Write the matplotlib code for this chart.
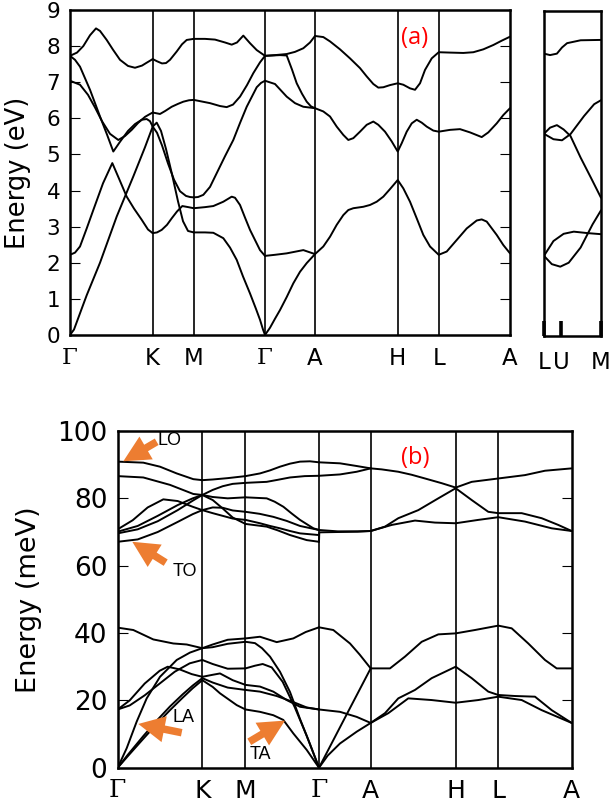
import matplotlib.pyplot as plt

# ------------------------------
# (a) electronic bands: k-path distance (arb. units) vs energy (eV)
a_kpts = [0, 0.827, 1.237, 1.95, 2.45, 3.277, 3.687, 4.40]
a_klab = ['Γ', 'K', 'M', 'Γ', 'A', 'H', 'L', 'A']

# Gamma-K
a_gk1 = ([0, 0.07, 0.133, 0.2, 0.26, 0.3, 0.367, 0.43, 0.50, 0.58, 0.65, 0.72, 0.767, 0.827],
         [7.73, 7.82, 8.0, 8.3, 8.49, 8.42, 8.17, 7.9, 7.62, 7.45, 7.40, 7.46, 7.54, 7.64])
a_gk2 = ([0, 0.04, 0.08, 0.12, 0.167, 0.30, 0.467, 0.633, 0.75, 0.827],
         [0, 0.15, 0.45, 0.75, 1.1, 2.0, 3.28, 4.39, 5.2, 5.77])
a_gk3 = ([0, 0.05, 0.10, 0.167, 0.233, 0.33, 0.423, 0.49, 0.567, 0.64, 0.717, 0.78, 0.827],
         [2.22, 2.28, 2.45, 2.95, 3.46, 4.2, 4.76, 4.33, 3.83, 3.5, 3.19, 2.92, 2.82])
a_gk4 = ([0, 0.05, 0.10, 0.20, 0.30, 0.37, 0.433, 0.50, 0.58, 0.65, 0.717, 0.767, 0.80, 0.827],
         [7.73, 7.62, 7.43, 6.79, 6.05, 5.55, 5.08, 5.35, 5.65, 5.84, 5.96, 5.98, 5.92, 5.77])
a_gk5 = ([0, 0.10, 0.18, 0.25, 0.32, 0.40, 0.483, 0.55, 0.617, 0.68, 0.75, 0.80, 0.827],
         [7.04, 6.93, 6.65, 6.30, 5.92, 5.57, 5.40, 5.51, 5.68, 5.87, 6.04, 6.12, 6.16])
# K-M
a_km1 = ([0.827, 0.87, 0.92, 0.96, 1.0, 1.067, 1.12, 1.167, 1.237],
         [7.64, 7.58, 7.52, 7.53, 7.62, 7.85, 8.05, 8.17, 8.20])
a_km2 = ([0.827, 0.90, 0.95, 1.017, 1.08, 1.133, 1.19, 1.237],
         [6.16, 6.12, 6.20, 6.32, 6.40, 6.46, 6.50, 6.51])
a_km3 = ([0.827, 0.867, 0.91, 0.96, 1.02, 1.08, 1.13, 1.18, 1.237],
         [5.77, 5.88, 5.65, 5.15, 4.45, 3.70, 3.15, 2.88, 2.84])
a_km4 = ([0.827, 0.87, 0.92, 0.98, 1.04, 1.10, 1.16, 1.20, 1.237],
         [5.77, 5.60, 5.25, 4.75, 4.30, 3.98, 3.85, 3.82, 3.81])
a_km5 = ([0.827, 0.87, 0.917, 0.97, 1.017, 1.07, 1.123, 1.183, 1.237],
         [2.82, 2.84, 2.91, 3.05, 3.23, 3.42, 3.57, 3.54, 3.51])
# M-Gamma
a_mg1 = ([1.237, 1.35, 1.45, 1.55, 1.617, 1.67, 1.733, 1.80, 1.867, 1.95],
         [8.20, 8.20, 8.18, 8.10, 8.04, 8.10, 8.29, 8.08, 7.89, 7.73])
a_mg2 = ([1.237, 1.40, 1.50, 1.567, 1.63, 1.70, 1.77, 1.833, 1.90, 1.95],
         [6.51, 6.42, 6.34, 6.31, 6.38, 6.60, 6.92, 7.25, 7.55, 7.73])
a_mg3 = ([1.237, 1.28, 1.333, 1.40, 1.467, 1.55, 1.633, 1.70, 1.767, 1.867, 1.91, 1.95],
         [3.81, 3.82, 3.88, 4.1, 4.48, 4.95, 5.40, 5.87, 6.32, 6.86, 6.98, 7.04])
a_mg4 = ([1.237, 1.35, 1.433, 1.533, 1.617, 1.65, 1.70, 1.75, 1.80, 1.90, 1.95],
         [3.51, 3.54, 3.57, 3.69, 3.83, 3.80, 3.60, 3.25, 2.91, 2.35, 2.19])
a_mg5 = ([1.237, 1.35, 1.433, 1.533, 1.60, 1.667, 1.73, 1.80, 1.86, 1.90, 1.93, 1.95],
         [2.84, 2.84, 2.83, 2.68, 2.42, 2.08, 1.62, 1.15, 0.72, 0.42, 0.15, 0.0])
# Gamma-A
a_ga1 = ([1.95, 2.05, 2.167, 2.25, 2.333, 2.40, 2.45], [7.73, 7.75, 7.78, 7.84, 7.94, 8.1, 8.28])
a_ga2 = ([1.95, 2.1, 2.167, 2.22, 2.267, 2.32, 2.367, 2.41, 2.45],
         [7.73, 7.75, 7.74, 7.35, 6.97, 6.68, 6.46, 6.33, 6.28])
a_ga3 = ([1.95, 2.05, 2.167, 2.25, 2.333, 2.45], [7.04, 6.95, 6.60, 6.42, 6.32, 6.28])
a_ga4 = ([1.95, 2.05, 2.167, 2.333, 2.45], [2.19, 2.22, 2.26, 2.35, 2.24])
a_ga5 = ([1.95, 2.0, 2.05, 2.10, 2.167, 2.233, 2.30, 2.367, 2.45],
         [0, 0.2, 0.45, 0.69, 1.05, 1.43, 1.75, 1.99, 2.24])
# A-H-L-A
a_aa1 = ([2.45, 2.533, 2.60, 2.70, 2.80, 2.90, 2.967, 3.033, 3.083, 3.133, 3.20, 3.277, 3.333,
          3.40, 3.45, 3.50, 3.55, 3.617, 3.687, 3.80, 3.933, 4.033, 4.133, 4.233, 4.317, 4.40],
         [8.28, 8.25, 8.13, 7.91, 7.66, 7.39, 7.16, 6.95, 6.85, 6.86, 6.92, 6.97, 6.93,
          6.83, 6.79, 6.97, 7.34, 7.66, 7.83, 7.82, 7.81, 7.83, 7.91, 8.03, 8.15, 8.26])
a_aa2 = ([2.45, 2.533, 2.60, 2.667, 2.733, 2.783, 2.833, 2.90, 2.967, 3.033, 3.083, 3.15, 3.217,
          3.277, 3.317, 3.367, 3.417, 3.467, 3.517, 3.567, 3.633, 3.687, 3.80, 3.90, 4.0, 4.117,
          4.183, 4.267, 4.333, 4.40],
         [6.28, 6.19, 6.05, 5.77, 5.54, 5.40, 5.45, 5.63, 5.82, 5.91, 5.82, 5.63, 5.36,
          5.08, 5.31, 5.63, 5.86, 5.96, 5.88, 5.77, 5.66, 5.63, 5.68, 5.70, 5.61, 5.48,
          5.61, 5.86, 6.09, 6.28])
a_aa3 = ([2.45, 2.533, 2.60, 2.667, 2.733, 2.783, 2.833, 2.933, 3.0, 3.067, 3.133, 3.2, 3.277,
          3.333, 3.40, 3.467, 3.533, 3.60, 3.687, 3.767, 3.867, 3.967, 4.067, 4.117, 4.167,
          4.267, 4.333, 4.40],
         [2.24, 2.45, 2.72, 3.05, 3.32, 3.46, 3.51, 3.55, 3.60, 3.69, 3.83, 4.04, 4.29,
          4.06, 3.69, 3.23, 2.77, 2.45, 2.22, 2.31, 2.63, 2.95, 3.17, 3.20, 3.14,
          2.77, 2.49, 2.26])

# small side panel L-U-M
s_kpts = [0, 0.167, 0.56]
s_klab = ['L', 'U', 'M']
s1 = ([0, 0.06, 0.127, 0.177, 0.227, 0.36, 0.56], [7.82, 7.78, 7.82, 7.99, 8.11, 8.19, 8.20])
s2 = ([0, 0.06, 0.127, 0.193, 0.26, 0.36, 0.46, 0.56], [5.60, 5.77, 5.84, 5.72, 5.54, 4.94, 4.39, 3.83])
s3 = ([0, 0.093, 0.177, 0.26, 0.393, 0.493, 0.56], [5.60, 5.45, 5.42, 5.59, 6.09, 6.42, 6.53])
s4 = ([0, 0.093, 0.193, 0.293, 0.427, 0.56], [2.22, 2.63, 2.83, 2.89, 2.85, 2.82])
s5 = ([0, 0.077, 0.16, 0.243, 0.36, 0.477, 0.56], [2.22, 1.99, 1.92, 2.03, 2.45, 3.09, 3.48])

# ------------------------------
# (b) phonon dispersion: k-path distance vs energy (meV)
b_kpts = [0, 0.846, 1.278, 2.013, 2.53, 3.38, 3.806, 4.54]
b_klab = ['Γ', 'K', 'M', 'Γ', 'A', 'H', 'L', 'A']

# optical branches
b_gk1 = ([0, 0.256, 0.423, 0.59, 0.756, 0.846], [90.9, 90.6, 89.4, 87.4, 85.7, 85.4])
b_gk2 = ([0, 0.256, 0.523, 0.756, 0.846], [86.6, 86.2, 84.0, 81.3, 81.0])
b_gk3 = ([0, 0.15, 0.30, 0.456, 0.60, 0.75, 0.846], [70.8, 73.5, 77.3, 79.7, 79.2, 77.5, 76.5])
b_gk4 = ([0, 0.2, 0.4, 0.6, 0.75, 0.846], [70.1, 71.8, 74.8, 78.0, 80.0, 81.0])
b_gk5 = ([0, 0.2, 0.4, 0.6, 0.75, 0.846], [69.6, 70.8, 73.2, 76.5, 79.3, 81.0])
b_gk6 = ([0, 0.2, 0.4, 0.6, 0.75, 0.846], [67.1, 67.8, 70.0, 73.0, 75.3, 76.5])
b_km1 = ([0.846, 0.95, 1.1, 1.278], [85.4, 85.6, 86.0, 86.6])
b_km2 = ([0.846, 0.95, 1.05, 1.15, 1.278], [81.0, 82.5, 83.6, 84.3, 84.6])
b_km3 = ([0.846, 0.95, 1.1, 1.278], [81.0, 80.4, 80.0, 80.3])
b_km4 = ([0.846, 0.95, 1.05, 1.15, 1.278], [81.0, 79.5, 77.0, 74.3, 72.4])
b_km5 = ([0.846, 0.95, 1.05, 1.15, 1.278], [76.5, 77.3, 77.2, 76.4, 76.0])
b_km6 = ([0.846, 0.95, 1.05, 1.15, 1.278], [76.5, 75.6, 74.8, 74.0, 73.6])
b_mg1 = ([1.278, 1.423, 1.523, 1.623, 1.723, 1.823, 1.923, 2.013], [86.6, 87.4, 88.3, 89.4, 90.3, 90.9, 91.0, 90.7])
b_mg2 = ([1.278, 1.49, 1.6, 1.723, 1.87, 2.013], [84.6, 84.9, 85.5, 86.2, 86.6, 86.7])
b_mg3 = ([1.278, 1.49, 1.57, 1.657, 1.74, 1.823, 1.957, 2.013], [80.3, 80.0, 79.0, 77.5, 75.5, 73.6, 71.1, 70.6])
b_mg4 = ([1.278, 1.42, 1.557, 1.69, 1.823, 2.013], [76.0, 75.4, 74.5, 73.3, 71.8, 70.6])
b_mg5 = ([1.278, 1.423, 1.523, 1.623, 1.723, 1.823, 2.013], [73.6, 72.6, 71.8, 71.1, 70.3, 69.6, 69.1])
b_mg6 = ([1.278, 1.49, 1.60, 1.723, 1.89, 2.013], [72.4, 71.6, 70.5, 69.1, 67.6, 67.1])
b_ga1 = ([2.013, 2.223, 2.39, 2.53], [90.7, 90.4, 89.6, 88.9])
b_ga2 = ([2.013, 2.223, 2.39, 2.53], [86.7, 87.1, 87.9, 88.9])
b_ga3 = ([2.013, 2.2, 2.4, 2.53], [70.6, 70.2, 70.2, 70.3])
b_ga4 = ([2.013, 2.016, 2.2, 2.4, 2.53], [67.1, 69.9, 70.0, 70.1, 70.3])
b_aa1 = ([2.53, 2.64, 2.806, 2.94, 3.073, 3.24, 3.38, 3.54, 3.806, 4.073, 4.273, 4.54],
         [88.9, 88.6, 87.9, 87.0, 85.9, 84.5, 83.2, 84.9, 85.9, 86.9, 88.2, 88.9])
b_aa2 = ([2.53, 2.673, 2.806, 3.006, 3.206, 3.38, 3.54, 3.706, 3.806, 4.04, 4.24, 4.406, 4.54],
         [70.3, 71.6, 74.1, 76.5, 80.0, 83.0, 79.5, 76.0, 75.6, 75.6, 74.1, 72.1, 70.3])
b_aa3 = ([2.53, 2.74, 2.973, 3.173, 3.38, 3.606, 3.806, 4.073, 4.34, 4.54],
         [70.3, 72.1, 73.4, 72.8, 72.6, 73.6, 74.4, 73.1, 71.1, 70.3])

# acoustic + low branches
b_gka1 = ([0, 0.156, 0.356, 0.556, 0.69, 0.846], [41.6, 40.9, 38.1, 36.9, 36.6, 35.5])
b_gka2 = ([0, 0.12, 0.27, 0.42, 0.50, 0.62, 0.74, 0.846], [17.3, 20.0, 25.0, 28.8, 30.0, 29.2, 27.8, 27.0])
b_gka3 = ([0, 0.12, 0.27, 0.42, 0.57, 0.72, 0.846], [17.3, 18.5, 21.5, 25.0, 28.5, 31.0, 32.0])
b_gka4 = ([0, 0.09, 0.19, 0.29, 0.423, 0.59, 0.723, 0.846], [0, 5.8, 13.7, 20.6, 27.0, 32.0, 34.2, 35.5])
b_gka5 = ([0, 0.1, 0.256, 0.4, 0.523, 0.65, 0.75, 0.846], [0, 3.4, 8.6, 13.3, 17.1, 20.8, 23.6, 26.0])
b_gka6 = ([0, 0.1, 0.256, 0.4, 0.523, 0.65, 0.75, 0.846], [0, 3.8, 9.4, 14.3, 18.2, 21.8, 24.4, 26.6])
b_kma1 = ([0.846, 0.95, 1.1, 1.278], [35.5, 36.6, 38.0, 38.4])
b_kma2 = ([0.846, 0.95, 1.1, 1.278], [35.5, 35.8, 36.8, 37.4])
b_kma3 = ([0.846, 0.95, 1.1, 1.278], [32.0, 30.8, 29.4, 29.5])
b_kma4 = ([0.846, 0.95, 1.023, 1.15, 1.278], [27.0, 27.6, 28.0, 26.0, 24.6])
b_kma5 = ([0.846, 0.95, 1.1, 1.278], [26.6, 25.3, 23.8, 23.1])
b_kma6 = ([0.846, 0.95, 1.023, 1.19, 1.278], [26.0, 24.0, 22.1, 18.6, 17.3])
b_mga1 = ([1.278, 1.423, 1.59, 1.756, 1.88, 2.013], [38.4, 38.9, 37.3, 38.4, 40.3, 41.7])
b_mga2 = ([1.278, 1.373, 1.443, 1.523, 1.623, 1.723, 1.823, 1.923, 2.013], [37.4, 37.0, 35.5, 33.0, 28.5, 22.5, 14.5, 7.0, 0])
b_mga3 = ([1.278, 1.373, 1.45, 1.54, 1.65, 1.77, 1.89, 2.013], [29.5, 30.3, 30.8, 29.8, 25.5, 18.0, 9.5, 0])
b_mga4 = ([1.278, 1.423, 1.556, 1.69, 1.823, 2.013], [24.6, 24.1, 22.6, 20.1, 18.1, 17.3])
b_mga5 = ([1.278, 1.423, 1.59, 1.756, 1.89, 2.013], [23.1, 22.6, 21.3, 19.5, 17.9, 17.3])
b_mga6 = ([1.278, 1.423, 1.556, 1.656, 1.756, 1.89, 2.013], [17.3, 16.6, 15.6, 14.2, 10.2, 5.3, 0])
b_gaa1 = ([2.013, 2.156, 2.323, 2.42, 2.53], [41.7, 40.9, 36.9, 33.6, 29.5])
b_gaa2 = ([2.013, 2.223, 2.39, 2.53], [17.3, 16.6, 15.1, 13.3])
b_gaa3 = ([2.013, 2.27, 2.53], [0, 14.7, 29.5])
b_gaa4 = ([2.013, 2.1, 2.223, 2.39, 2.53], [0, 3.6, 7.2, 10.7, 13.3])
b_aaa1 = ([2.53, 2.723, 2.873, 3.04, 3.206, 3.38, 3.573, 3.806, 3.94, 4.106, 4.273, 4.39, 4.54],
          [29.5, 29.5, 33.0, 37.4, 39.6, 39.9, 40.9, 42.2, 41.4, 36.9, 32.0, 29.5, 29.5])
b_aaa2 = ([2.53, 2.673, 2.806, 2.973, 3.14, 3.38, 3.54, 3.706, 3.806, 3.973, 4.173, 4.34, 4.54],
          [13.3, 16.2, 20.6, 23.1, 26.6, 30.0, 26.6, 22.6, 21.6, 21.3, 21.1, 17.1, 13.3])
b_aaa3 = ([2.53, 2.706, 2.906, 3.14, 3.38, 3.606, 3.806, 4.04, 4.24, 4.54],
          [13.3, 16.2, 20.6, 20.1, 19.3, 20.1, 21.1, 20.1, 17.1, 13.3])

# mode labels with arrows (tip, tail, text position)
mode_names = ['LO', 'TO', 'LA', 'TA']
mode_tips = [(0.056, 91.0), (0.146, 67.1), (0.206, 13.0), (1.673, 14.0)]
mode_tails = [(0.39, 96.8), (0.48, 60.9), (0.64, 10.4), (1.316, 7.7)]
mode_text = [(0.403, 97.3), (0.553, 58.2), (0.553, 14.8), (1.323, 3.8)]

a_bands = [a_gk1, a_gk2, a_gk3, a_gk4, a_gk5, a_km1, a_km2, a_km3, a_km4, a_km5,
           a_mg1, a_mg2, a_mg3, a_mg4, a_mg5, a_ga1, a_ga2, a_ga3, a_ga4, a_ga5,
           a_aa1, a_aa2, a_aa3]
s_bands = [s1, s2, s3, s4, s5]
b_bands = [b_gk1, b_gk2, b_gk3, b_gk4, b_gk5, b_gk6, b_km1, b_km2, b_km3, b_km4, b_km5, b_km6,
           b_mg1, b_mg2, b_mg3, b_mg4, b_mg5, b_mg6, b_ga1, b_ga2, b_ga3, b_ga4,
           b_aa1, b_aa2, b_aa3,
           b_gka1, b_gka2, b_gka3, b_gka4, b_gka5, b_gka6, b_kma1, b_kma2, b_kma3, b_kma4,
           b_kma5, b_kma6, b_mga1, b_mga2, b_mga3, b_mga4, b_mga5, b_mga6,
           b_gaa1, b_gaa2, b_gaa3, b_gaa4, b_aaa1, b_aaa2, b_aaa3]
# ----------------------------------------

band_lw = 1.4
spine_lw = 1.8


def draw_bands(ax, bands):
    for k, e in bands:
        ax.plot(k, e, color='k', lw=band_lw, solid_joinstyle='round', solid_capstyle='round')


def style_axes(ax):
    for sp in ax.spines.values():
        sp.set_linewidth(spine_lw)


def gamma_serif(ax):
    for lab in ax.get_xticklabels():
        if lab.get_text() == 'Γ':
            lab.set_fontfamily('DejaVu Serif')


fig = plt.figure(figsize=(6.13, 8.05), dpi=100)
ax1 = fig.add_axes([0.1142, 0.5839, 0.7178, 0.4037])
ax2 = fig.add_axes([0.8874, 0.5826, 0.093, 0.4037])
ax3 = fig.add_axes([0.192, 0.0463, 0.7406, 0.4183])

# panel (a)
draw_bands(ax1, a_bands)
for kp in a_kpts[1:-1]:
    ax1.axvline(kp, color='k', lw=1.2)
ax1.set_xlim(a_kpts[0], a_kpts[-1])
ax1.set_ylim(0, 9)
ax1.set_yticks(range(10))
ax1.set_xticks(a_kpts)
ax1.set_xticklabels(a_klab)
ax1.tick_params(axis='y', direction='in', length=7, width=0.8, left=True, right=True,
                labelsize=15.5, pad=7)
ax1.tick_params(axis='x', length=0, labelsize=16.5, pad=8.5)
gamma_serif(ax1)
ax1.set_ylabel('Energy (eV)', fontsize=18.5)
ax1.yaxis.set_label_coords(-0.089, 0.5)
ax1.text(3.45, 8.23, '(a)', color='red', fontsize=17, family='Open Sans',
         ha='center', va='center')
style_axes(ax1)

# side panel
draw_bands(ax2, s_bands)
ax2.set_xlim(s_kpts[0], s_kpts[-1])
ax2.set_ylim(0, 9)
ax2.set_yticks([])
ax2.set_xticks(s_kpts)
ax2.set_xticklabels(s_klab)
ax2.tick_params(axis='x', direction='in', length=11, width=2.6, labelsize=16.5, pad=11)
style_axes(ax2)

# panel (b)
draw_bands(ax3, b_bands)
for kp in b_kpts[1:-1]:
    ax3.axvline(kp, color='k', lw=1.2)
ax3.set_xlim(b_kpts[0], b_kpts[-1])
ax3.set_ylim(0, 100)
ax3.set_yticks(range(0, 101, 20))
ax3.set_xticks(b_kpts)
ax3.set_xticklabels(b_klab)
ax3.tick_params(axis='y', direction='in', length=7.5, width=0.8, left=True, right=True,
                labelsize=19, pad=7.5)
ax3.tick_params(axis='x', length=0, labelsize=18, pad=8)
gamma_serif(ax3)
ax3.set_ylabel('Energy (meV)', fontsize=19.5)
ax3.yaxis.set_label_coords(-0.167, 0.5)
ax3.text(2.973, 92.0, '(b)', color='red', fontsize=17, family='Open Sans',
         ha='center', va='center')

arrow_style = 'simple,head_length=0.95,head_width=0.95,tail_width=0.27'
for name, tip, tail, pos in zip(mode_names, mode_tips, mode_tails, mode_text):
    ax3.annotate('', xy=tip, xytext=tail,
                 arrowprops=dict(arrowstyle=arrow_style, fc='#ED7D31', ec='none',
                                 mutation_scale=20, shrinkA=0, shrinkB=0))
    ax3.text(pos[0], pos[1], name, fontsize=13, family='Liberation Sans',
             ha='left', va='center')
style_axes(ax3)

fig.savefig('out.png', dpi=100)
